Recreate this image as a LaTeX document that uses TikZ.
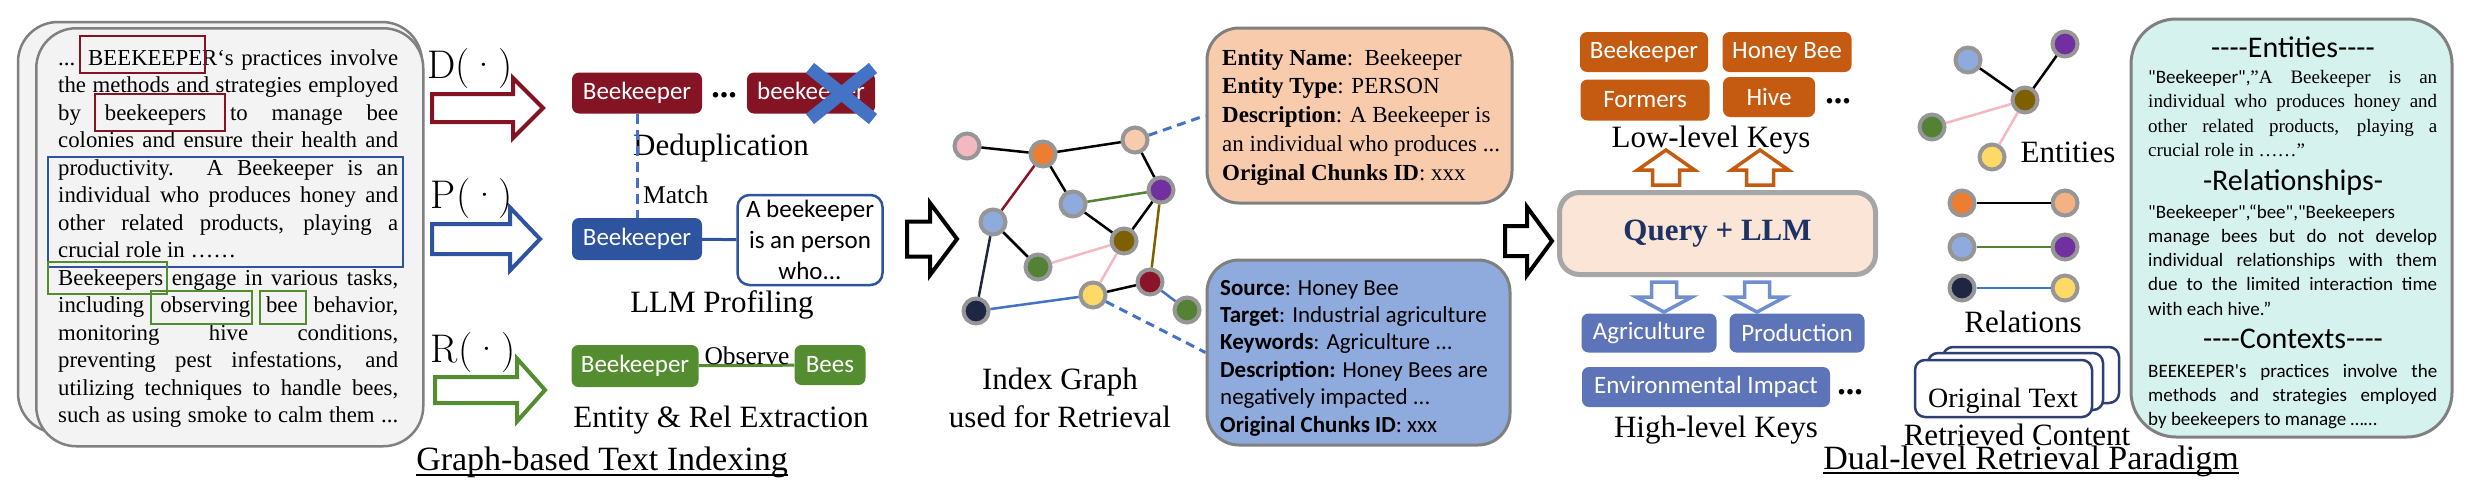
\documentclass[tikz,border=0pt]{standalone}
\usepackage{fontspec}
\usetikzlibrary{positioning}
\newfontfamily\tnr{Liberation Serif}
\newfontfamily\calibri{Carlito}
\setlength{\parindent}{0pt}
\newcommand{\fsz}[2]{\fontsize{#1}{#2}\selectfont}
\newcommand{\jl}[2]{\makebox[#1pt][s]{#2}}
% hollow block arrow: style, tip, angle, length, shaft half width, head half width, head length
\newcommand{\blockarrow}[7]{%
  \draw[#1, shift={#2}, rotate=#3] (0,0) -- (-#7,-#6) -- (-#7,-#5) -- (-#4,-#5)
    -- (-#4,#5) -- (-#7,#5) -- (-#7,#6) -- cycle;}

\definecolor{dred}{RGB}{132,20,36}
\definecolor{pblue}{RGB}{46,84,160}
\definecolor{rgreen}{RGB}{84,140,48}
\definecolor{lowkey}{RGB}{197,90,17}
\definecolor{highkey}{RGB}{94,116,185}
\definecolor{downblue}{RGB}{111,143,207}
\definecolor{xblue}{RGB}{68,114,196}
\definecolor{docfill}{RGB}{243,243,243}
\definecolor{boxline}{RGB}{128,128,128}
\definecolor{entfill}{RGB}{248,203,173}
\definecolor{relfill}{RGB}{143,170,220}
\definecolor{qfill}{RGB}{251,229,214}
\definecolor{qline}{RGB}{166,166,166}
\definecolor{qnavy}{RGB}{31,50,100}
\definecolor{sumfill}{RGB}{213,242,238}
\definecolor{pagenavy}{RGB}{47,62,115}
\definecolor{ringgray}{RGB}{150,150,150}
\definecolor{cpink}{RGB}{244,184,192}
\definecolor{corange}{RGB}{237,125,49}
\definecolor{cpeach}{RGB}{248,203,173}
\definecolor{cpeachdark}{RGB}{244,177,131}
\definecolor{clblue}{RGB}{143,170,220}
\definecolor{cpurple}{RGB}{112,48,160}
\definecolor{colive}{RGB}{127,96,0}
\definecolor{cgreen}{RGB}{84,130,53}
\definecolor{cdred}{RGB}{139,21,40}
\definecolor{cyellow}{RGB}{255,217,102}
\definecolor{cnavy}{RGB}{31,38,68}
\definecolor{cedgeblue}{RGB}{68,114,196}

\begin{document}
\begin{tikzpicture}[x=1pt,y=-1pt,
    every node/.style={inner sep=0pt},
    keybox/.style={rounded corners=7pt, text=white, font=\calibri\fsz{25}{30}, minimum height=40pt},
    lbl/.style={font=\tnr\fsz{31}{38}, align=center, anchor=base},
    opname/.style={font=\fsz{40}{44}, anchor=base},
    gnode/.style={circle, draw=ringgray, line width=4pt, minimum size=25pt},
    glink/.style={line width=2.5pt},
    hl/.style={line width=2.5pt},
    docpage/.style={draw=boxline, line width=2.5pt, fill=docfill, rounded corners=40pt},
    infobox/.style={draw=boxline, line width=3pt, rounded corners=32pt},
    infodash/.style={xblue, line width=3pt, dash pattern=on 9pt off 6pt},
    pagenavy/.style={draw=pagenavy, line width=2.5pt, fill=white, rounded corners=10pt},
    dots/.style={font=\tnr\bfseries\fsz{34}{34}}]
\useasboundingbox (0,0) rectangle (2472,493);

% ---- source text
\draw[docpage] (18,22) rectangle (422,433);
\node[docpage, minimum width=387pt, minimum height=418pt, anchor=north west] (doc) at (35,27) {};
\node[anchor=base west, text width=340pt, align=justify, font=\tnr\fsz{22.8}{27.5}] (doctext) at (58,65) {%
\jl{340}{... BEEKEEPER‘s practices involve}\\
\jl{340}{the methods and strategies employed}\\
\jl{340}{by beekeepers to manage bee}\\
\jl{340}{colonies and ensure their health and}\\
\jl{340}{productivity. A Beekeeper is an}\\
\jl{340}{individual who produces honey and}\\
\jl{340}{other related products, playing a}\\
crucial role in ……\\
\jl{340}{Beekeepers engage in various tasks,}\\
\jl{340}{including observing bee behavior,}\\
\jl{340}{monitoring hive conditions,}\\
\jl{340}{preventing pest infestations, and}\\
\jl{340}{utilizing techniques to handle bees,}\\
\jl{340}{such as using smoke to calm them ...}};
\draw[hl, dred] (80,36) rectangle (205,73);
\draw[hl, dred] (95,94) rectangle (225,131);
\draw[hl, pblue] (48,157) rectangle (403,267);
\draw[hl, rgreen] (48,262) rectangle (167,294);
\draw[hl, rgreen] (151,291) rectangle (252,324);
\draw[hl, rgreen] (260,291) rectangle (306,324);

% ---- operators
\node[opname] (opD) at (470,78) {D(\textperiodcentered)};
\node[opname] (opP) at (472,208) {P(\textperiodcentered)};
\node[opname] (opR) at (473,362) {R(\textperiodcentered)};
\blockarrow{draw=dred, line width=4pt, fill=white}{(543,108)}{0}{111}{14}{30}{30}
\blockarrow{draw=pblue, line width=4pt, fill=white}{(540,239)}{0}{108}{15}{31.5}{30}
\blockarrow{draw=rgreen, line width=4pt, fill=white}{(545,390)}{0}{110}{13}{31.5}{28}

% ---- deduplication
\node[keybox, fill=dred, minimum width=130pt, minimum height=41pt] (dupA) at (637,93) {Beekeeper};
\node[dots] (dupdots) at (724,95) {...};
\node[keybox, fill=dred, minimum width=128pt, minimum height=41pt] (dupB) at (811,93) {beekeeper};
\draw[xblue, line width=13pt] (810,68) -- (873,119) (810,119) -- (873,68);
\node[lbl] (dedup) at (721,155) {Deduplication};

% ---- profiling
\node[keybox, fill=pblue, minimum width=130pt, minimum height=42pt] (prof) at (637,239) {Beekeeper};
\draw[xblue, line width=3pt, dash pattern=on 10pt off 6pt] (dupA) -- (prof);
\node[font=\tnr\fsz{25.5}{30}, anchor=base west] (match) at (643,203) {Match};
\node[draw=pblue, line width=2.5pt, rounded corners=12pt, fill=white, minimum width=145pt,
  minimum height=90pt, align=center, font=\calibri\fsz{25}{31}] (bubble) at (810,240) {A beekeeper\\is an person\\who...};
\draw[pblue, line width=3pt] (prof) -- (bubble);
\node[lbl] (profcap) at (722,312) {LLM Profiling};

% ---- extraction
\node[keybox, fill=rgreen, minimum width=127pt, minimum height=42pt] (relA) at (635,366) {Beekeeper};
\node[keybox, fill=rgreen, minimum width=71pt] (relB) at (830,365) {Bees};
\draw[rgreen, line width=3pt] (relA) -- (relB);
\node[font=\tnr\fsz{25.5}{30}, anchor=base] (observe) at (747,364) {Observe};
\node[lbl] (extcap) at (721,427) {Entity \& Rel Extraction};
\node[font=\tnr\fsz{34}{40}, anchor=base] (idxcap) at (602,470) {Graph-based Text Indexing};
\draw[line width=1.5pt] ([yshift=-5pt]idxcap.base west) -- ([yshift=-5pt]idxcap.base east);

% ---- index graph
\blockarrow{draw=black, line width=4pt, fill=white}{(957,239)}{0}{50}{17.5}{36}{27}
\node[gnode, fill=cpink] (pink) at (967,146) {};
\node[gnode, fill=corange] (orange) at (1043,154) {};
\node[gnode, fill=cpeach] (peach) at (1135,140) {};
\node[gnode, fill=clblue] (blueA) at (993,222) {};
\node[gnode, fill=clblue] (blueB) at (1073,204) {};
\node[gnode, fill=cpurple] (purple) at (1161,190) {};
\node[gnode, fill=colive] (olive) at (1124,241) {};
\node[gnode, fill=cgreen] (greenA) at (1038,267) {};
\node[gnode, fill=cdred] (dredn) at (1150,282) {};
\node[gnode, fill=cyellow] (yellow) at (1093,295) {};
\node[gnode, fill=cnavy] (navy) at (976,311) {};
\node[gnode, fill=cgreen] (greenB) at (1187,310) {};
\path[glink]
  (pink) edge (orange)
  (orange) edge (peach)
  (peach) edge (purple)
  (orange) edge[cdred] (blueA)
  (orange) edge (blueB)
  (blueB) edge[cgreen] (purple)
  (blueB) edge (olive)
  (purple) edge (olive)
  (purple) edge[colive] (dredn)
  (blueA) edge (greenA)
  (blueA) edge[cnavy] (navy)
  (greenA) edge[cpink] (olive)
  (olive) edge[cpink] (yellow)
  (yellow) edge (dredn)
  (dredn) edge[cedgeblue] (greenB)
  (navy) edge[cedgeblue] (yellow);
\node[lbl] (graphcap) at (1060,427) {Index Graph\\used for Retrieval};

% ---- entity and relation records
\node[infobox, fill=entfill, minimum width=305pt, minimum height=175pt] (entbox) at (1359.5,115.5) {};
\node[anchor=base west, text width=285pt, align=justify, font=\tnr\fsz{23}{28.75}] (enttxt) at (1222,65) {%
\textbf{Entity Name}:\ \ Beekeeper\\
\textbf{Entity Type}: PERSON\\
\textbf{Description}: A Beekeeper is\\
an individual who produces ...\\
\textbf{Original Chunks ID}: xxx};
\node[infobox, fill=relfill, minimum width=303pt, minimum height=185pt] (relbox) at (1358.5,352.5) {};
\node[anchor=base west, text width=285pt, align=justify, font=\calibri\fsz{23}{27.4}] (reltxt) at (1220,295) {%
\textbf{Source}: Honey Bee\\
\textbf{Target}: Industrial agriculture\\
\textbf{Keywords}: Agriculture ...\\
\textbf{Description:} Honey Bees are\\
negatively impacted ...\\
\textbf{Original Chunks ID}: xxx};
\draw[infodash] (peach) -- (entbox.west);
\draw[infodash] (yellow) -- (relbox.west);

% ---- query and keys
\blockarrow{draw=black, line width=4pt, fill=white}{(1552,241)}{0}{47}{15}{34}{25}
\node[draw=qline, line width=5pt, fill=qfill, rounded corners=20pt, minimum width=316pt, minimum height=82pt,
  font=\tnr\bfseries\fsz{31}{36}, text=qnavy] (query) at (1717.5,233.5) {Query + LLM};
\node[keybox, fill=lowkey, minimum width=128pt] (kBeekeeper) at (1644,52) {Beekeeper};
\node[keybox, fill=lowkey, minimum width=129pt] (kHoney) at (1787,52) {Honey Bee};
\node[keybox, fill=lowkey, minimum width=129pt, minimum height=41pt] (kFormers) at (1645,100) {Formers};
\node[keybox, fill=lowkey, minimum width=92pt] (kHive) at (1769,97) {Hive};
\node[dots] (lowdots) at (1838,101) {...};
\node[lbl] (lowcap) at (1711,147) {Low-level Keys};
\blockarrow{draw=lowkey, line width=3.5pt, fill=white}{(1666,150)}{90}{35}{13.5}{28.5}{20}
\blockarrow{draw=lowkey, line width=3.5pt, fill=white}{(1760,150)}{90}{35}{13.5}{28.5}{20}
\blockarrow{draw=downblue, line width=3.5pt, fill=white}{(1664,312)}{-90}{30}{12.5}{28}{15}
\blockarrow{draw=downblue, line width=3.5pt, fill=white}{(1757,312)}{-90}{30}{12.5}{28}{15}
\node[keybox, fill=highkey, minimum width=135pt, minimum height=39pt] (kAgri) at (1649,333) {Agriculture};
\node[keybox, fill=highkey, minimum width=135pt, minimum height=39pt] (kProd) at (1797,333) {Production};
\node[keybox, fill=highkey, minimum width=248pt] (kEnv) at (1706,387) {Environmental Impact};
\node[dots] (highdots) at (1850,392) {...};
\node[lbl] (highcap) at (1716,437) {High-level Keys};

% ---- retrieved entities and relations
\node[gnode, fill=clblue] (eBlue) at (1968,60) {};
\node[gnode, fill=cpurple] (ePurple) at (2065,44) {};
\node[gnode, fill=colive] (eOlive) at (2025,100) {};
\node[gnode, fill=cgreen] (eGreen) at (1932,127) {};
\node[gnode, fill=cyellow] (eYellow) at (1992,157) {};
\path[glink]
  (eBlue) edge (eOlive)
  (ePurple) edge (eOlive)
  (eGreen) edge[cpink] (eOlive)
  (eYellow) edge[cpink] (eOlive);
\node[lbl] (entcap) at (2068,162) {Entities};
\node[gnode, fill=corange] (rOrange) at (1962,203) {};
\node[gnode, fill=cpeachdark] (rPeach) at (2065,203) {};
\node[gnode, fill=clblue] (rBlue) at (1962,247) {};
\node[gnode, fill=cpurple] (rPurple) at (2065,247) {};
\node[gnode, fill=cnavy] (rNavy) at (1962,288) {};
\node[gnode, fill=cyellow] (rYellow) at (2065,288) {};
\path[glink]
  (rOrange) edge (rPeach)
  (rBlue) edge[cgreen] (rPurple)
  (rNavy) edge[cedgeblue] (rYellow);
\node[lbl] (relcap) at (2023,332) {Relations};

% ---- retrieved content
\draw[pagenavy] (1943,347) rectangle (2119,403);
\draw[pagenavy] (1928,353) rectangle (2103,410);
\node[pagenavy, minimum width=177pt, minimum height=57pt] (origpage) at (2003.5,388.5) {};
\node[font=\tnr\fsz{28}{32}, anchor=base] (origtext) at (2003,407) {Original Text};
\node[lbl] (contcap) at (2017,445) {Retrieved Content};
\node[font=\tnr\fsz{34}{40}, anchor=base] (dualcap) at (2031,469) {Dual-level Retrieval Paradigm};
\draw[line width=1.5pt] ([yshift=-4pt]dualcap.base west) -- ([yshift=-4pt]dualcap.base east);

% ---- context summary
\node[draw=boxline, line width=3pt, fill=sumfill, rounded corners=45pt, minimum width=321pt, minimum height=418pt] (summary) at (2291.5,228) {};
\node[font=\calibri\fsz{30}{36}, anchor=base] (hEnt) at (2293,57) {-{}-{}-{}-Entities-{}-{}-{}-};
\node[anchor=base west, text width=289pt, align=justify, font=\tnr\fsz{19}{24.5}] (bEnt) at (2148,83) {%
\jl{289}{{\calibri "Beekeeper",}”A Beekeeper is an}\\
\jl{289}{individual who produces honey and}\\
\jl{289}{other related products, playing a}\\
crucial role in ……”};
\node[font=\calibri\fsz{30}{36}, anchor=base] (hRel) at (2293,190) {-Relationships-};
\node[anchor=base west, text width=289pt, align=justify, font=\calibri\fsz{19}{24.3}] (bRel) at (2148,218) {%
"Beekeeper",“bee","Beekeepers\\
\jl{289}{manage bees but do not develop}\\
\jl{289}{individual relationships with them}\\
\jl{289}{due to the limited interaction time}\\
with each hive.”};
\node[font=\calibri\fsz{30}{36}, anchor=base] (hCtx) at (2293,348) {-{}-{}-{}-Contexts-{}-{}-{}-};
\node[anchor=base west, text width=289pt, align=justify, font=\calibri\fsz{19}{24}] (bCtx) at (2148,377) {%
\jl{289}{BEEKEEPER's practices involve the}\\
\jl{289}{methods and strategies employed}\\
by beekeepers to manage ……};
\end{tikzpicture}
\end{document}
